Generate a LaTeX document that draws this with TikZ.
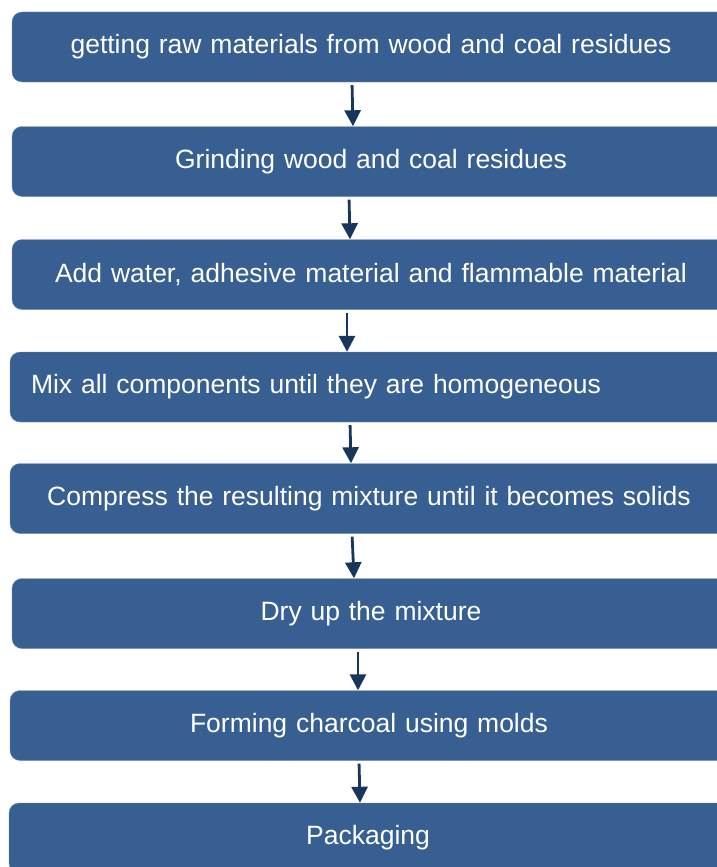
\documentclass[tikz,border=0pt]{standalone}
\usepackage{fontspec}
\setmainfont{Liberation Sans}
\usepackage{xcolor}
\usetikzlibrary{arrows.meta}
\definecolor{boxblue}{HTML}{375F92}
\definecolor{arrownavy}{HTML}{17365D}
\tikzset{
    step-box/.style = {draw=boxblue!70!white, fill=boxblue, thin, rectangle, rounded corners=10pt, text=white,
        minimum width=718pt, minimum height=70pt, text width=680pt, align=center,
        font=\fontsize{26.5}{30}\selectfont},
    flow-arrow/.style = {draw=arrownavy, line width=2.8pt, shorten <=3pt, -{Triangle[width=16pt,length=16pt]}},
}
\begin{document}
\begin{tikzpicture}[x=1pt,y=-1pt]
\useasboundingbox (0,0) rectangle (717,867);
\node [step-box] (raw) at (371,47) {getting raw materials from wood and coal residues};
\node [step-box] (grind) at (371,161.5) {Grinding wood and coal residues};
\node [step-box] (add) at (371,274.5) {Add water, adhesive material and flammable material};
\node [step-box, align=left, text width=676pt] (mix) at (369,387) {Mix all components until they are homogeneous};
\node [step-box] (press) at (369,498.5) {Compress the resulting mixture until it becomes solids};
\node [step-box] (dry) at (371,613.5) {Dry up the mixture};
\node [step-box] (mold) at (369,725.5) {Forming charcoal using molds};
\node [step-box] (pack) at (368,838) {Packaging};
% arrows between the steps
\draw [flow-arrow] ([xshift=-19pt]raw.south) -- ([xshift=-18pt]grind.north);
\draw [flow-arrow] ([xshift=-22pt]grind.south) -- ([xshift=-21pt]add.north);
\draw [flow-arrow] ([xshift=-24pt]add.south) -- ([xshift=-22pt]mix.north);
\draw [flow-arrow] ([xshift=-19pt]mix.south) -- ([xshift=-18pt]press.north);
\draw [flow-arrow] ([xshift=-17pt]press.south) -- ([xshift=-17pt]dry.north);
\draw [flow-arrow] ([xshift=-13pt]dry.south) -- ([xshift=-11pt]mold.north);
\draw [flow-arrow] ([xshift=-10pt]mold.south) -- ([xshift=-8pt]pack.north);
\end{tikzpicture}
\end{document}
